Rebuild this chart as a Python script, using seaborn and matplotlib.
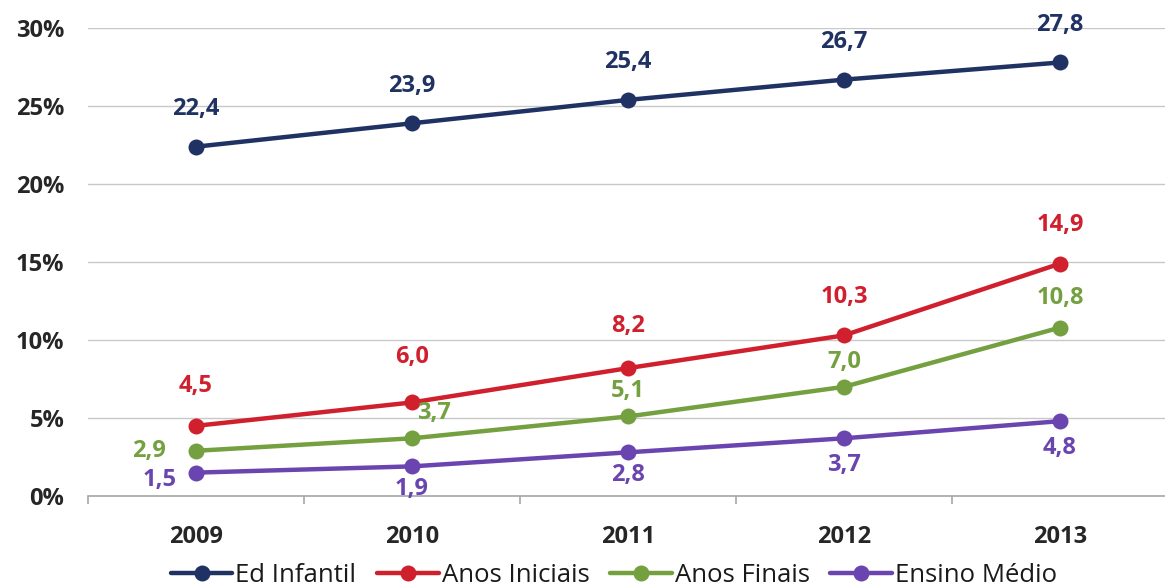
import matplotlib
matplotlib.use("Agg")
import matplotlib.pyplot as plt
import seaborn as sns
import pandas as pd
from matplotlib.ticker import FixedLocator, FuncFormatter

years = [2009, 2010, 2011, 2012, 2013]
series_names = ["Ed Infantil", "Anos Iniciais", "Anos Finais", "Ensino Médio"]
ed_infantil = [22.4, 23.9, 25.4, 26.7, 27.8]
anos_iniciais = [4.5, 6.0, 8.2, 10.3, 14.9]
anos_finais = [2.9, 3.7, 5.1, 7.0, 10.8]
ensino_medio = [1.5, 1.9, 2.8, 3.7, 4.8]
y_ticks = [0, 5, 10, 15, 20, 25, 30]

values = [ed_infantil, anos_iniciais, anos_finais, ensino_medio]
colors = ["#1F3263", "#D0202E", "#74A040", "#6A45B0"]

# label offsets (points) per series/point
offsets = {
    "Ed Infantil": [(0, 27)] * 5,
    "Anos Iniciais": [(0, 29), (0, 33), (0, 30), (0, 28), (0, 28)],
    "Anos Finais": [(-34, 0), (16, 18), (0, 18), (0, 18), (0, 21)],
    "Ensino Médio": [(-26, -5), (0, -16), (0, -16), (0, -19), (0, -19)],
}

rows = []
for name, vals in zip(series_names, values):
    for yr, v in zip(years, vals):
        rows.append({"year": yr, "value": v, "series": name})
df = pd.DataFrame(rows)

sns.set_style("white")
plt.rcParams["font.family"] = ["Open Sans", "DejaVu Sans"]

fig = plt.figure(figsize=(11.65, 5.87), dpi=100)
ax = fig.add_axes([0.0755, 0.155, 0.927, 0.797])

sns.lineplot(data=df, x="year", y="value", hue="series", hue_order=series_names,
             palette=colors, marker="o", markersize=11.5, linewidth=3.2,
             markeredgewidth=0, ax=ax, legend=True)

for name, vals, col in zip(series_names, values, colors):
    for i, (yr, v) in enumerate(zip(years, vals)):
        dx, dy = offsets[name][i]
        ax.annotate(f"{v:.1f}".replace(".", ","), (yr, v), xytext=(dx, dy),
                    textcoords="offset points", ha="center", va="center",
                    fontsize=17, fontweight="bold", color=col)

ax.set_xlim(years[0] - 0.5, years[-1] + 0.5)
ax.set_ylim(0, 30)
ax.yaxis.set_major_locator(FixedLocator(y_ticks))
ax.yaxis.set_major_formatter(FuncFormatter(lambda v, p: f"{int(v)}%"))
ax.set_xticks(years)
ax.set_xticklabels([str(y) for y in years])
ax.set_xticks([y + 0.5 for y in [years[0] - 1] + years], minor=True)
ax.grid(axis="y", color="#C8C8C8", linewidth=1)
ax.set_axisbelow(True)
for s in ["left", "right", "top"]:
    ax.spines[s].set_visible(False)
ax.spines["bottom"].set_color("#A6A6A6")
ax.spines["bottom"].set_linewidth(1.2)
ax.tick_params(axis="x", which="major", length=0, pad=21, labelsize=17, colors="#262626")
ax.tick_params(axis="x", which="minor", length=6, width=1.2, color="#A6A6A6", bottom=True)
ax.tick_params(axis="y", length=0, pad=17, labelsize=17, colors="#262626")
for lab in ax.get_xticklabels() + ax.get_yticklabels():
    lab.set_fontweight("bold")
ax.set_xlabel("")
ax.set_ylabel("")

handles, labels = ax.get_legend_handles_labels()
ax.get_legend().remove()
fig.legend(handles, labels, loc="center", bbox_to_anchor=(0.527, 0.02), ncol=4,
           frameon=False, fontsize=18.5, handlelength=2.4, handletextpad=0.12,
           columnspacing=0.8, labelcolor="#1a1a1a")

fig.savefig("out.png", dpi=100)
